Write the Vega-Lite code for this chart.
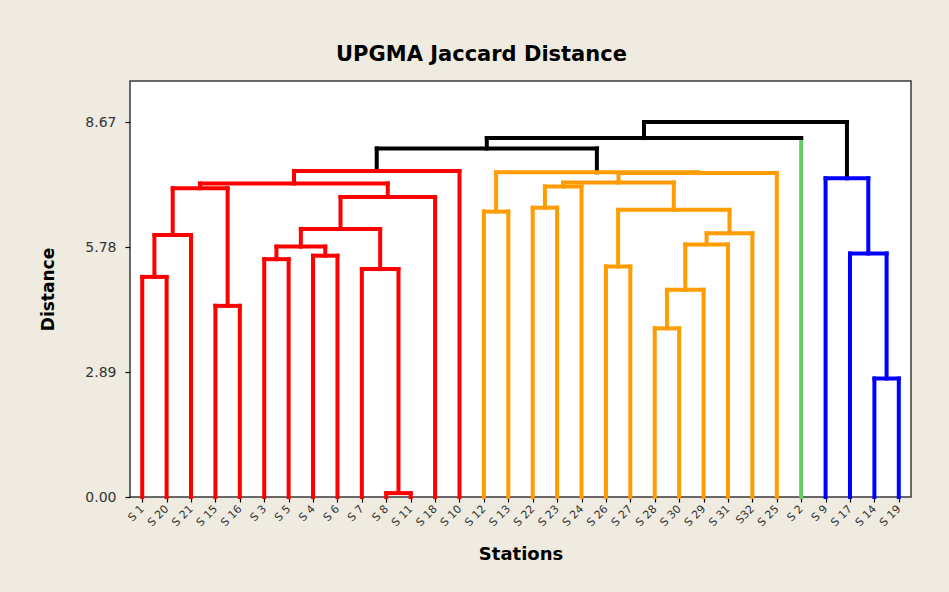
{
  "$schema": "https://vega.github.io/schema/vega-lite/v6.json",
  "width": 781,
  "height": 416,
  "autosize": {"type": "none"},
  "padding": {"left": 130, "top": 81, "right": 38, "bottom": 95},
  "background": "#EFEBE1",
  "title": {
    "text": "UPGMA Jaccard Distance",
    "font": "DejaVu Sans",
    "fontSize": 21,
    "fontWeight": "bold",
    "color": "#000000",
    "anchor": "middle",
    "frame": "group",
    "dx": -39,
    "dy": 20,
    "offset": 19,
    "baseline": "alphabetic"
  },
  "config": {
    "view": {"fill": "#FFFFFF", "stroke": "#3a3a3a", "strokeWidth": 1.5}
  },
  "datasets": {
    "leaves": [
      {"order": 1, "station": "S 1", "base": 0, "top": 5.09, "grp": "C1"},
      {"order": 2, "station": "S 20", "base": 0, "top": 5.09, "grp": "C1"},
      {"order": 3, "station": "S 21", "base": 0, "top": 6.06, "grp": "C1"},
      {"order": 4, "station": "S 15", "base": 0, "top": 4.42, "grp": "C1"},
      {"order": 5, "station": "S 16", "base": 0, "top": 4.42, "grp": "C1"},
      {"order": 6, "station": "S 3", "base": 0, "top": 5.50, "grp": "C1"},
      {"order": 7, "station": "S 5", "base": 0, "top": 5.50, "grp": "C1"},
      {"order": 8, "station": "S 4", "base": 0, "top": 5.58, "grp": "C1"},
      {"order": 9, "station": "S 6", "base": 0, "top": 5.58, "grp": "C1"},
      {"order": 10, "station": "S 7", "base": 0, "top": 5.27, "grp": "C1"},
      {"order": 11, "station": "S 8", "base": 0, "top": 0.09, "grp": "C1"},
      {"order": 12, "station": "S 11", "base": 0, "top": 0.09, "grp": "C1"},
      {"order": 13, "station": "S 18", "base": 0, "top": 6.94, "grp": "C1"},
      {"order": 14, "station": "S 10", "base": 0, "top": 7.54, "grp": "C1"},
      {"order": 15, "station": "S 12", "base": 0, "top": 6.60, "grp": "C2"},
      {"order": 16, "station": "S 13", "base": 0, "top": 6.60, "grp": "C2"},
      {"order": 17, "station": "S 22", "base": 0, "top": 6.69, "grp": "C2"},
      {"order": 18, "station": "S 23", "base": 0, "top": 6.69, "grp": "C2"},
      {"order": 19, "station": "S 24", "base": 0, "top": 7.18, "grp": "C2"},
      {"order": 20, "station": "S 26", "base": 0, "top": 5.33, "grp": "C2"},
      {"order": 21, "station": "S 27", "base": 0, "top": 5.33, "grp": "C2"},
      {"order": 22, "station": "S 28", "base": 0, "top": 3.90, "grp": "C2"},
      {"order": 23, "station": "S 30", "base": 0, "top": 3.90, "grp": "C2"},
      {"order": 24, "station": "S 29", "base": 0, "top": 4.79, "grp": "C2"},
      {"order": 25, "station": "S 31", "base": 0, "top": 5.84, "grp": "C2"},
      {"order": 26, "station": "S32", "base": 0, "top": 6.10, "grp": "C2"},
      {"order": 27, "station": "S 25", "base": 0, "top": 7.49, "grp": "C2"},
      {"order": 28, "station": "S 2", "base": 0, "top": 8.30, "grp": "C3"},
      {"order": 29, "station": "S 9", "base": 0, "top": 7.37, "grp": "C4"},
      {"order": 30, "station": "S 17", "base": 0, "top": 5.63, "grp": "C4"},
      {"order": 31, "station": "S 14", "base": 0, "top": 2.74, "grp": "C4"},
      {"order": 32, "station": "S 19", "base": 0, "top": 2.74, "grp": "C4"}
    ],
    "nodes": [
      {"node": "A", "x": 1.5, "h": 5.09, "xl": 1, "xr": 2, "ph": 6.06, "grp": "C1", "sgrp": "C1"},
      {"node": "B", "x": 2.25, "h": 6.06, "xl": 1.5, "xr": 3, "ph": 7.14, "grp": "C1", "sgrp": "C1"},
      {"node": "C", "x": 4.5, "h": 4.42, "xl": 4, "xr": 5, "ph": 7.14, "grp": "C1", "sgrp": "C1"},
      {"node": "D", "x": 3.375, "h": 7.14, "xl": 2.25, "xr": 4.5, "ph": 7.25, "grp": "C1", "sgrp": "C1"},
      {"node": "E", "x": 6.5, "h": 5.50, "xl": 6, "xr": 7, "ph": 5.79, "grp": "C1", "sgrp": "C1"},
      {"node": "F", "x": 8.5, "h": 5.58, "xl": 8, "xr": 9, "ph": 5.79, "grp": "C1", "sgrp": "C1"},
      {"node": "G", "x": 7.5, "h": 5.79, "xl": 6.5, "xr": 8.5, "ph": 6.20, "grp": "C1", "sgrp": "C1"},
      {"node": "H", "x": 11.5, "h": 0.09, "xl": 11, "xr": 12, "ph": 5.27, "grp": "C1", "sgrp": "C1"},
      {"node": "I", "x": 10.75, "h": 5.27, "xl": 10, "xr": 11.5, "ph": 6.20, "grp": "C1", "sgrp": "C1"},
      {"node": "J", "x": 9.125, "h": 6.20, "xl": 7.5, "xr": 10.75, "ph": 6.94, "grp": "C1", "sgrp": "C1"},
      {"node": "K", "x": 11.0625, "h": 6.94, "xl": 9.125, "xr": 13, "ph": 7.25, "grp": "C1", "sgrp": "C1"},
      {"node": "L", "x": 7.219, "h": 7.25, "xl": 3.375, "xr": 11.0625, "ph": 7.54, "grp": "C1", "sgrp": "C1"},
      {"node": "M", "x": 10.609, "h": 7.54, "xl": 7.219, "xr": 14, "ph": 8.06, "grp": "C1", "sgrp": "join"},
      {"node": "N", "x": 15.5, "h": 6.60, "xl": 15, "xr": 16, "ph": 7.51, "grp": "C2", "sgrp": "C2"},
      {"node": "O", "x": 17.5, "h": 6.69, "xl": 17, "xr": 18, "ph": 7.18, "grp": "C2", "sgrp": "C2"},
      {"node": "P", "x": 18.25, "h": 7.18, "xl": 17.5, "xr": 19, "ph": 7.27, "grp": "C2", "sgrp": "C2"},
      {"node": "Q", "x": 22.5, "h": 3.90, "xl": 22, "xr": 23, "ph": 4.79, "grp": "C2", "sgrp": "C2"},
      {"node": "R", "x": 23.25, "h": 4.79, "xl": 22.5, "xr": 24, "ph": 5.84, "grp": "C2", "sgrp": "C2"},
      {"node": "S", "x": 24.125, "h": 5.84, "xl": 23.25, "xr": 25, "ph": 6.10, "grp": "C2", "sgrp": "C2"},
      {"node": "T", "x": 25.0625, "h": 6.10, "xl": 24.125, "xr": 26, "ph": 6.64, "grp": "C2", "sgrp": "C2"},
      {"node": "U", "x": 20.5, "h": 5.33, "xl": 20, "xr": 21, "ph": 6.64, "grp": "C2", "sgrp": "C2"},
      {"node": "V", "x": 22.781, "h": 6.64, "xl": 20.5, "xr": 25.0625, "ph": 7.27, "grp": "C2", "sgrp": "C2"},
      {"node": "W", "x": 20.516, "h": 7.27, "xl": 18.25, "xr": 22.781, "ph": 7.49, "grp": "C2", "sgrp": "C2"},
      {"node": "X", "x": 23.758, "h": 7.49, "xl": 20.516, "xr": 27, "ph": 7.51, "grp": "C2", "sgrp": "C2"},
      {"node": "Y", "x": 19.629, "h": 7.51, "xl": 15.5, "xr": 23.758, "ph": 8.06, "grp": "C2", "sgrp": "join"},
      {"node": "Z", "x": 15.119, "h": 8.06, "xl": 10.609, "xr": 19.629, "ph": 8.30, "grp": "join", "sgrp": "join"},
      {"node": "AA", "x": 21.56, "h": 8.30, "xl": 15.119, "xr": 28, "ph": 8.67, "grp": "join", "sgrp": "join"},
      {"node": "BB", "x": 31.5, "h": 2.74, "xl": 31, "xr": 32, "ph": 5.63, "grp": "C4", "sgrp": "C4"},
      {"node": "CC", "x": 30.75, "h": 5.63, "xl": 30, "xr": 31.5, "ph": 7.37, "grp": "C4", "sgrp": "C4"},
      {"node": "DD", "x": 29.875, "h": 7.37, "xl": 29, "xr": 30.75, "ph": 8.67, "grp": "C4", "sgrp": "join"},
      {"node": "EE", "x": 25.72, "h": 8.67, "xl": 21.56, "xr": 29.875, "ph": null, "grp": "join", "sgrp": "join"}
    ]
  },
  "layer": [
    {
      "data": {"name": "leaves"},
      "mark": {"type": "rule", "strokeWidth": 4, "strokeCap": "square"},
      "encoding": {
        "x": {
          "field": "station",
          "type": "nominal",
          "sort": {"field": "order", "op": "min"},
          "scale": {"type": "point", "padding": 0.5},
          "axis": {
            "title": "Stations",
            "domain": false,
            "grid": false,
            "tickSize": 5,
            "tickColor": "#000000",
            "tickWidth": 1.2,
            "labelAngle": -45,
            "labelAlign": "right",
            "labelBaseline": "middle",
            "labelFont": "DejaVu Sans",
            "labelFontSize": 11,
            "labelColor": "#333333",
            "labelPadding": 5,
            "labelOverlap": false,
            "titleFont": "DejaVu Sans",
            "titleFontSize": 18,
            "titleFontWeight": "bold",
            "titleColor": "#000000",
            "titleY": 62,
            "titleBaseline": "alphabetic"
          }
        },
        "y": {
          "field": "base",
          "type": "quantitative",
          "scale": {"domain": [0, 9.62], "nice": false},
          "axis": {
            "title": "Distance",
            "values": [0, 2.89, 5.78, 8.67],
            "format": ".2f",
            "domain": false,
            "grid": false,
            "tickSize": 5,
            "tickColor": "#000000",
            "tickWidth": 1.2,
            "labelFont": "DejaVu Sans",
            "labelFontSize": 14,
            "labelColor": "#333333",
            "labelPadding": 9,
            "titleFont": "DejaVu Sans",
            "titleFontSize": 17,
            "titleFontWeight": "bold",
            "titleColor": "#000000",
            "titleX": -82,
            "titleBaseline": "middle"
          }
        },
        "y2": {"field": "top"},
        "color": {
          "field": "grp",
          "type": "nominal",
          "scale": {"domain": ["C1", "C2", "C3", "C4", "join"], "range": ["#FF0000", "#FF9C00", "#66CC66", "#0000FF", "#000000"]},
          "legend": null
        }
      }
    },
    {
      "data": {"name": "nodes"},
      "transform": [{"filter": "datum.ph != null"}],
      "mark": {"type": "rule", "strokeWidth": 4, "strokeCap": "square"},
      "encoding": {
        "x": {"field": "x", "type": "quantitative", "scale": {"domain": [0.5, 32.5], "nice": false, "zero": false}, "axis": null},
        "y": {"field": "h", "type": "quantitative"},
        "y2": {"field": "ph"},
        "color": {"field": "sgrp", "type": "nominal", "legend": null}
      }
    },
    {
      "data": {"name": "nodes"},
      "mark": {"type": "rule", "strokeWidth": 4, "strokeCap": "square"},
      "encoding": {
        "x": {"field": "xl", "type": "quantitative", "scale": {"domain": [0.5, 32.5], "nice": false, "zero": false}, "axis": null},
        "x2": {"field": "xr"},
        "y": {"field": "h", "type": "quantitative"},
        "color": {"field": "grp", "type": "nominal", "legend": null}
      }
    }
  ],
  "resolve": {"scale": {"x": "independent"}}
}
